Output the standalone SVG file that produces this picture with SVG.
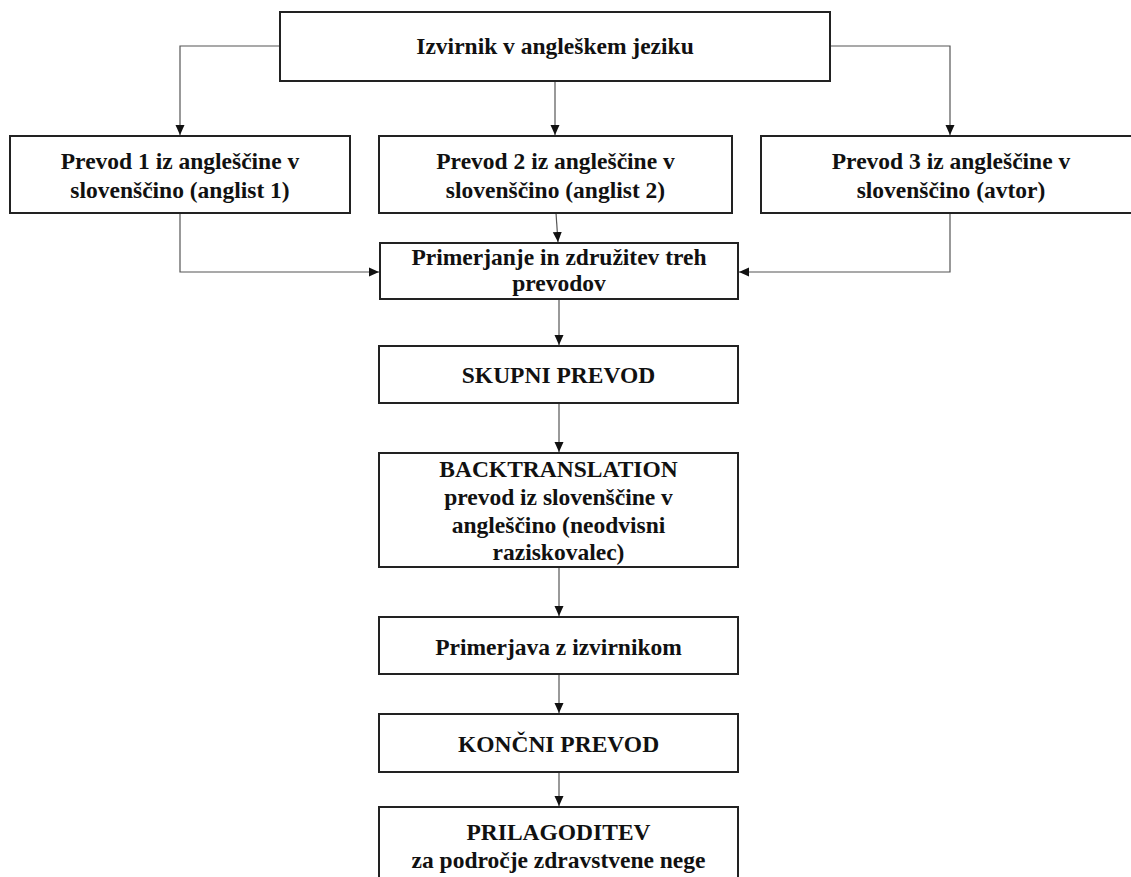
<svg xmlns="http://www.w3.org/2000/svg" width="1131" height="877" viewBox="0 0 1131 877">
  <style>
    .box { fill: #ffffff; stroke: #222222; stroke-width: 2; }
    .lbl { font-family: "Liberation Serif", "Times New Roman", serif; font-weight: bold; font-size: 23.5px; fill: #111111; text-anchor: middle; }
    .edge { fill: none; stroke: #555555; stroke-width: 1.2; marker-end: url(#arrow); }
  </style>
  <defs>
    <marker id="arrow" markerUnits="userSpaceOnUse" markerWidth="10" markerHeight="10" refX="10" refY="5" orient="auto">
      <path d="M0,0.5 L10,5 L0,9.5 Z" fill="#111111"/>
    </marker>
  </defs>

  <rect width="1131" height="877" fill="#ffffff"/>

  <!-- connectors -->
  <g id="connectors">
    <path class="edge" d="M280,46 H180 V135"/>
    <path class="edge" d="M555,81 V135"/>
    <path class="edge" d="M830,46 H950 V135"/>
    <path class="edge" d="M180,213 V272 H379"/>
    <path class="edge" d="M556,213 L558,242"/>
    <path class="edge" d="M950,213 V272 H739"/>
    <path class="edge" d="M559,299 V345"/>
    <path class="edge" d="M559,403 V452"/>
    <path class="edge" d="M559,567 V616"/>
    <path class="edge" d="M559,674 V713"/>
    <path class="edge" d="M559,772 V806"/>
  </g>

  <g id="source">
    <rect class="box" x="280" y="12" width="550" height="69"/>
    <text class="lbl" x="555" y="54">Izvirnik v angleškem jeziku</text>
  </g>

  <g id="translation1">
    <rect class="box" x="10" y="136" width="340" height="77"/>
    <text class="lbl" x="180" y="169">Prevod 1 iz angleščine v</text>
    <text class="lbl" x="180" y="197.5">slovenščino (anglist 1)</text>
  </g>

  <g id="translation2">
    <rect class="box" x="379" y="136" width="353" height="77"/>
    <text class="lbl" x="555.5" y="169">Prevod 2 iz angleščine v</text>
    <text class="lbl" x="555.5" y="197.5">slovenščino (anglist 2)</text>
  </g>

  <g id="translation3">
    <rect class="box" x="761" y="136" width="380" height="77"/>
    <text class="lbl" x="951" y="169">Prevod 3 iz angleščine v</text>
    <text class="lbl" x="951" y="197.5">slovenščino (avtor)</text>
  </g>

  <g id="merge">
    <rect class="box" x="380" y="243" width="358" height="56"/>
    <text class="lbl" x="559" y="265">Primerjanje in združitev treh</text>
    <text class="lbl" x="559" y="291">prevodov</text>
  </g>

  <g id="joint">
    <rect class="box" x="379" y="346" width="359" height="57"/>
    <text class="lbl" x="558.5" y="383">SKUPNI PREVOD</text>
  </g>

  <g id="backtranslation">
    <rect class="box" x="379" y="453" width="359" height="114"/>
    <text class="lbl" x="558.5" y="477">BACKTRANSLATION</text>
    <text class="lbl" x="558.5" y="505">prevod iz slovenščine v</text>
    <text class="lbl" x="558.5" y="532.5">angleščino (neodvisni</text>
    <text class="lbl" x="558.5" y="560">raziskovalec)</text>
  </g>

  <g id="compare">
    <rect class="box" x="379" y="617" width="359" height="57"/>
    <text class="lbl" x="558.5" y="655">Primerjava z izvirnikom</text>
  </g>

  <g id="final">
    <rect class="box" x="379" y="714" width="359" height="58"/>
    <text class="lbl" x="558.5" y="752">KONČNI PREVOD</text>
  </g>

  <g id="adaptation">
    <rect class="box" x="379" y="807" width="359" height="90"/>
    <text class="lbl" x="558.5" y="840">PRILAGODITEV</text>
    <text class="lbl" x="558.5" y="868">za področje zdravstvene nege</text>
  </g>
</svg>
